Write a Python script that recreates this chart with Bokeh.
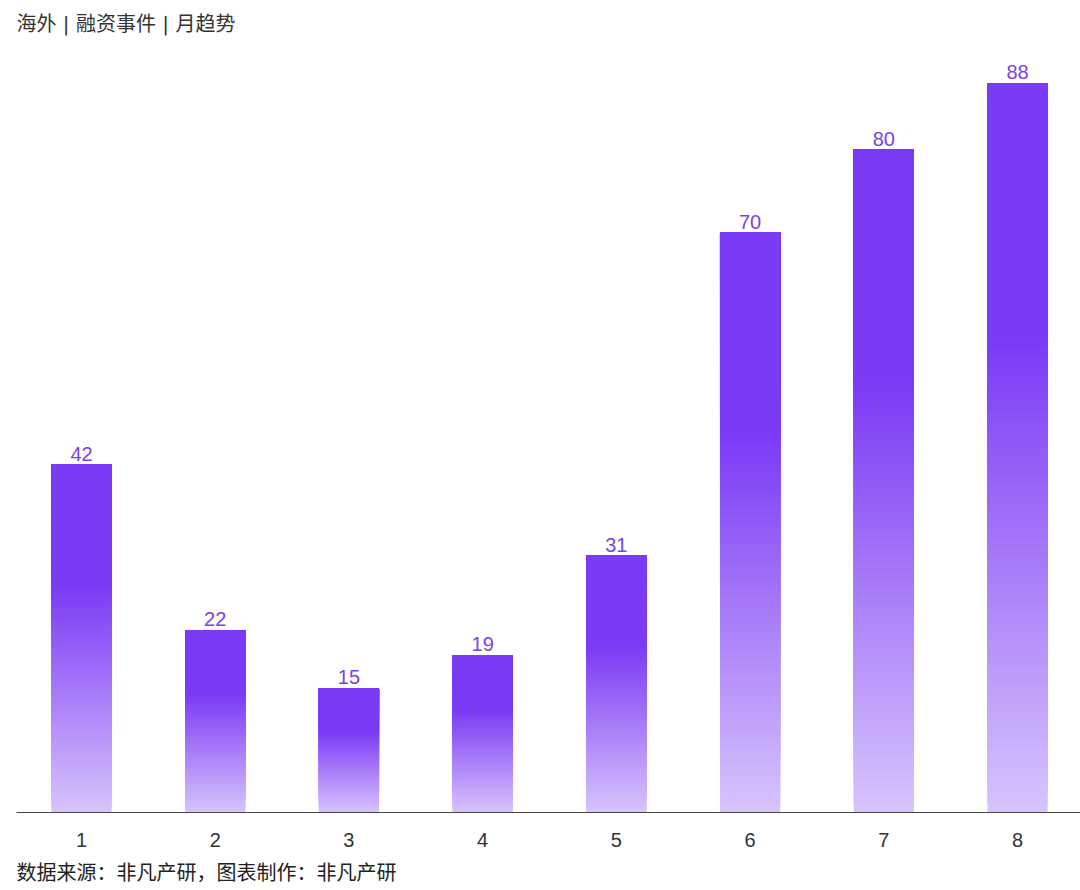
import numpy as np
from bokeh.plotting import figure
from bokeh.models import ColumnDataSource, Range1d, FixedTicker, Title
from bokeh.embed import file_html
from bokeh.resources import INLINE
from bokeh.core.properties import value

# ---- data ----
months = ["1", "2", "3", "4", "5", "6", "7", "8"]
counts = [42, 22, 15, 19, 31, 70, 80, 88]
title_text = "海外 | 融资事件 | 月趋势"
source_text = "数据来源：非凡产研，图表制作：非凡产研"

BASE = (123, 58, 245)
BAR_W = 0.45
N_SLICES = 80

xs = list(range(1, len(months) + 1))

p = figure(width=1080, height=890, output_backend="svg", toolbar_location=None,
           x_range=Range1d(0.5139, 8.471), y_range=Range1d(0, 93.19),
           min_border_left=16, min_border_right=0, min_border_top=40,
           min_border_bottom=78)

p.title.text = title_text
p.title.align = "left"
p.title.text_font = "DejaVu Sans, Noto Sans CJK SC"
p.title.text_font_size = "20px"
p.title.text_font_style = "normal"
p.title.text_color = "#333333"
p.title.offset = 0

# gradient bars built from overlapping slices (each slice runs to the bar top)
left, right, bottom, top, colors = [], [], [], [], []
for x, v in zip(xs, counts):
    for k in range(N_SLICES):
        t0 = k / N_SLICES
        s = 1 - (k + 0.5) / N_SLICES  # fraction from top
        if s < 0.35:
            a = 1.0
        else:
            a = 1.0 - 0.7 * (s - 0.35) / 0.65
        c = tuple(int(round(255 * (1 - a) + ch * a)) for ch in BASE)
        left.append(x - BAR_W / 2)
        right.append(x + BAR_W / 2)
        bottom.append(v * t0)
        top.append(v)
        colors.append("#%02x%02x%02x" % c)

bars = ColumnDataSource(dict(left=left, right=right, bottom=bottom, top=top, color=colors))
p.quad(left="left", right="right", bottom="bottom", top="top", fill_color="color",
       line_color=None, source=bars)

labels = ColumnDataSource(dict(x=xs, y=counts, t=[str(v) for v in counts]))
p.text(x="x", y="y", text="t", source=labels, text_align="center",
       text_baseline="bottom", y_offset=-4, text_color="#7c42e6",
       text_font=value("Liberation Sans"), text_font_size="20px")

p.yaxis.visible = False
p.xgrid.visible = False
p.ygrid.visible = False
p.outline_line_color = None

p.xaxis.ticker = FixedTicker(ticks=xs)
p.xaxis.major_label_overrides = {x: m for x, m in zip(xs, months)}
p.xaxis.major_tick_line_color = None
p.xaxis.minor_tick_line_color = None
p.xaxis.axis_line_color = "#444444"
p.xaxis.axis_line_width = 1
p.xaxis.major_label_text_font = "Liberation Sans"
p.xaxis.major_label_text_font_size = "20px"
p.xaxis.major_label_text_color = "#333333"
p.xaxis.major_label_standoff = 14

foot = Title(text=source_text, align="left", text_font="Noto Sans CJK SC",
             text_font_size="20px", text_font_style="normal", text_color="#222222",
             offset=0)
p.add_layout(foot, "below")

open("out.html", "w").write(file_html(p, INLINE))
